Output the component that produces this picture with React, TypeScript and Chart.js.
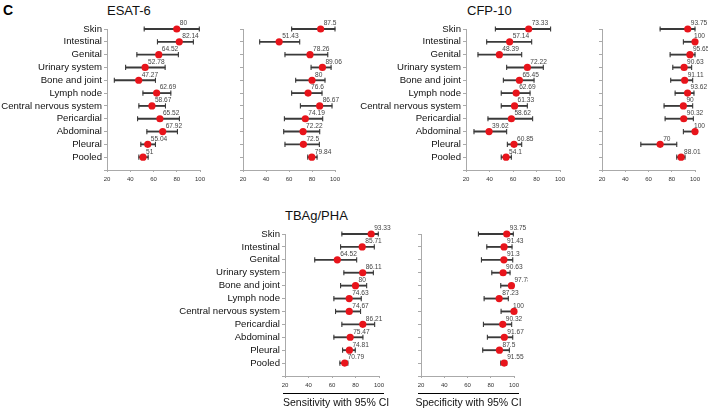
import React, { useEffect, useRef } from 'react';
import { Chart, registerables } from 'chart.js';

Chart.register(...registerables);

const FONT = '"Liberation Sans", Arial, Helvetica, sans-serif';

const categories = [
  'Skin',
  'Intestinal',
  'Genital',
  'Urinary system',
  'Bone and joint',
  'Lymph node',
  'Central nervous system',
  'Pericardial',
  'Abdominal',
  'Pleural',
  'Pooled',
];
const xTickValues = [20, 40, 60, 80, 100];

// ESAT-6 sensitivity
const esatSensEst = [80, 82.14, 64.52, 52.78, 47.27, 62.69, 58.67, 65.52, 67.92, 55.04, 51];
const esatSensLow = [52, 63.4, 45.7, 36, 26.3, 50.9, 47.4, 46.3, 54.3, 49.1, 47.4];
const esatSensHigh = [99.4, 94.3, 81.4, 70, 61.7, 74.9, 70.3, 82.3, 80.6, 61.7, 55.4];

// ESAT-6 specificity
const esatSpecEst = [87.5, 51.43, 78.26, 89.06, 80, 76.6, 86.67, 74.19, 72.22, 72.5, 79.84];
const esatSpecLow = [62.3, 34.5, 56.5, 79.2, 65.8, 62.3, 69.9, 56, 55.4, 56.5, 76.3];
const esatSpecHigh = [100, 69.3, 93.7, 96.6, 91.3, 88.7, 97.4, 89.3, 86.7, 86.4, 84.4];

// CFP-10 sensitivity
const cfpSensEst = [73.33, 57.14, 48.39, 72.22, 65.45, 62.69, 61.33, 58.62, 39.62, 60.85, 54.1];
const cfpSensLow = [45, 37.6, 30.2, 54.6, 51.8, 50, 50, 38.7, 26.8, 55.2, 50];
const cfpSensHigh = [92, 75.9, 67.4, 85.8, 77.9, 74.5, 72.2, 76.7, 54.6, 67.4, 58.6];

// CFP-10 specificity
const cfpSpecEst = [93.75, 100, 95.65, 90.63, 91.11, 93.62, 90, 90.32, 100, 70, 88.01];
const cfpSpecLow = [70, 90, 78.6, 80.9, 79.1, 82.9, 73.4, 74.3, 90, 53.4, 84.3];
const cfpSpecHigh = [100, 100, 100, 97.1, 98, 99.1, 98, 98.6, 100, 84.3, 91.4];

// TBAg/PHA sensitivity
const tbagSensEst = [93.33, 85.71, 64.52, 86.11, 80, 74.63, 74.67, 86.21, 75.47, 74.81, 70.79];
const tbagSensLow = [68.4, 67.3, 45.3, 70.1, 67.3, 61.6, 63, 68.4, 61.6, 69, 66.7];
const tbagSensHigh = [99.4, 96, 81, 95.2, 89.5, 84.9, 84.3, 96.3, 86.3, 79.8, 73.5];

// TBAg/PHA specificity
const tbagSpecEst = [93.75, 91.43, 91.3, 90.63, 97.78, 87.23, 100, 90.32, 91.67, 87.5, 91.55];
const tbagSpecLow = [69.4, 76.6, 72, 80.9, 88.6, 74.3, 88.9, 73.7, 77.1, 73.1, 88.6];
const tbagSpecHigh = [99.4, 98.3, 98.9, 96.6, 99.4, 95.1, 100, 98, 98.9, 96, 93.7];

const valueLabelPlugin = {
  id: 'valueLabels',
  afterDatasetsDraw(chart: any) {
    const meta = chart.getDatasetMeta(0);
    const vals = chart.data.datasets[0].data as number[];
    const ctx = chart.ctx;
    ctx.save();
    ctx.font = `6.6px ${FONT}`;
    ctx.fillStyle = '#444';
    ctx.textBaseline = 'middle';
    ctx.textAlign = 'left';
    meta.data.forEach((el: any, i: number) => {
      const v = vals[i];
      const dx = v >= 99.5 ? -1 : 3;
      ctx.fillText(String(v), el.x + dx, el.y - 5.5);
    });
    ctx.restore();
  },
};

type PanelProps = {
  est: number[];
  low: number[];
  high: number[];
  showLabels: boolean;
  areaLeft: number;
  areaTop: number;
  plotW: number;
  plotH: number;
};

function Panel({ est, low, high, showLabels, areaLeft, areaTop, plotW, plotH }: PanelProps) {
  const ref = useRef<HTMLCanvasElement>(null);
  const yW = showLabels ? 120 : 12;
  const padTop = 16;
  const padRight = 14;
  const xH = 22;
  const cw = yW + plotW + padRight;
  const ch = padTop + plotH + xH;

  useEffect(() => {
    const capCommon = {
      type: 'line' as const,
      indexAxis: 'y' as const,
      showLine: false,
      pointStyle: 'line' as const,
      pointRotation: 90,
      pointRadius: 2.6,
      pointBorderColor: '#3a3a3a',
      pointBorderWidth: 1.1,
      pointBackgroundColor: '#3a3a3a',
      clip: false as any,
      order: 1,
    };
    const chart = new Chart(ref.current as HTMLCanvasElement, {
      type: 'bar',
      data: {
        labels: [...categories, ''],
        datasets: [
          {
            type: 'line',
            indexAxis: 'y',
            data: est,
            showLine: false,
            pointRadius: 3.6,
            pointBackgroundColor: '#e8141b',
            pointBorderColor: '#e8141b',
            pointBorderWidth: 0,
            clip: false as any,
            order: 0,
          } as any,
          { ...capCommon, data: low } as any,
          { ...capCommon, data: high } as any,
          {
            type: 'bar',
            data: low.map((l, i) => [l, high[i]]),
            backgroundColor: '#3a3a3a',
            barThickness: 1.2,
            clip: false as any,
            order: 2,
          } as any,
        ],
      },
      options: {
        indexAxis: 'y',
        animation: false,
        responsive: false,
        events: [],
        layout: { padding: { top: padTop, right: padRight, left: 0, bottom: 0 } },
        plugins: { legend: { display: false }, tooltip: { enabled: false } },
        scales: {
          x: {
            type: 'linear',
            min: 20,
            max: 100,
            afterFit: (s: any) => {
              s.height = xH;
            },
            afterBuildTicks: (s: any) => {
              s.ticks = xTickValues.map((v) => ({ value: v }));
            },
            ticks: {
              font: { size: 6, family: FONT },
              color: '#333',
              padding: 4,
              autoSkip: false,
              maxRotation: 0,
            },
            grid: { drawOnChartArea: false, tickLength: 2, color: '#aaa' },
            border: { color: '#aaa', width: 1 },
          },
          y: {
            type: 'category',
            offset: false,
            afterFit: (s: any) => {
              s.width = yW;
            },
            ticks: {
              display: showLabels,
              font: { size: 9.6, family: FONT },
              color: '#111',
              padding: 2,
              autoSkip: false,
            },
            grid: { drawOnChartArea: false, offset: false, tickLength: 3, color: '#aaa' },
            border: { color: '#aaa', width: 1 },
          },
        },
      } as any,
      plugins: [valueLabelPlugin],
    });
    return () => chart.destroy();
  }, []);

  return (
    <canvas
      ref={ref}
      width={cw}
      height={ch}
      style={{ position: 'absolute', left: areaLeft - yW, top: areaTop - padTop, width: cw, height: ch }}
    />
  );
}

const textStyle = (left: number, top: number, size: number, extra: any = {}) => ({
  position: 'absolute' as const,
  left,
  top,
  fontFamily: FONT,
  fontSize: size,
  lineHeight: `${size}px`,
  whiteSpace: 'nowrap' as const,
  color: '#111',
  ...extra,
});

export default function App() {
  return (
    <div
      style={{
        position: 'fixed',
        left: 0,
        top: 0,
        width: 708,
        height: 410,
        background: '#fff',
        overflow: 'hidden',
      }}
    >
      <div style={textStyle(3, 3, 14, { fontWeight: 'bold', color: '#000' })}>C</div>
      <div style={textStyle(107, 4, 13)}>ESAT-6</div>
      <div style={textStyle(467, 4, 13)}>CFP-10</div>
      <div style={textStyle(285, 209, 13)}>TBAg/PHA</div>

      <Panel est={esatSensEst} low={esatSensLow} high={esatSensHigh} showLabels areaLeft={107} areaTop={29} plotW={93} plotH={141} />
      <Panel est={esatSpecEst} low={esatSpecLow} high={esatSpecHigh} showLabels={false} areaLeft={243} areaTop={29} plotW={92} plotH={141} />
      <Panel est={cfpSensEst} low={cfpSensLow} high={cfpSensHigh} showLabels areaLeft={466} areaTop={29} plotW={94} plotH={141} />
      <Panel est={cfpSpecEst} low={cfpSpecLow} high={cfpSpecHigh} showLabels={false} areaLeft={602} areaTop={29} plotW={93} plotH={141} />
      <Panel est={tbagSensEst} low={tbagSensLow} high={tbagSensHigh} showLabels areaLeft={285} areaTop={234} plotW={94} plotH={142} />
      <Panel est={tbagSpecEst} low={tbagSpecLow} high={tbagSpecHigh} showLabels={false} areaLeft={421} areaTop={234} plotW={93} plotH={142} />

      <div style={{ position: 'absolute', left: 283, top: 393, width: 101, height: 0, borderTop: '1.5px solid #000' }} />
      <div style={{ position: 'absolute', left: 418, top: 393, width: 101, height: 0, borderTop: '1.5px solid #000' }} />
      <div style={textStyle(283, 396, 10.5, { width: 101, textAlign: 'center', lineHeight: '12px' })}>Sensitivity with 95% CI</div>
      <div style={textStyle(418, 396, 10.5, { width: 101, textAlign: 'center', lineHeight: '12px', display: 'flex', justifyContent: 'center' })}>Specificity with 95% CI</div>
    </div>
  );
}
